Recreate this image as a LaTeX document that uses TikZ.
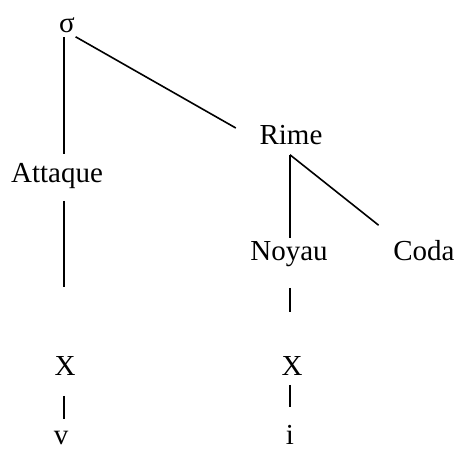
\documentclass[tikz,border=0pt]{standalone}
\usepackage{fontspec}
\setmainfont{Liberation Serif}
\usepackage{tikz}
\newcommand{\colA}{64}
\newcommand{\colB}{290}

\begin{document}
\begin{tikzpicture}[x=1pt, y=-1pt, line width=1.6pt,
	lab/.style={font=\fontsize{29}{34}\selectfont, inner sep=0pt, anchor=base, text height=20pt, text depth=0pt}]
	\useasboundingbox (0,0) rectangle (459,452);
	\coordinate (ca) at (\colA,0);
	\coordinate (cb) at (\colB,0);
	% syllabe
	\node[lab] (sigma) at (67,33) {σ};
	\node[lab] (attaque) at (57,183) {Attaque};
	\node[lab] (rime) at (291,145) {Rime};
	\node[lab] (noyau) at (289,261) {Noyau};
	\node[lab] (coda) at (424,261) {Coda};
	% squelette
	\node[lab] (xa) at (65,376) {X};
	\node[lab] (xb) at (292,376) {X};
	\node[lab] (v) at (61,445) {v};
	\node[lab] (i) at (290,445) {i};
	% branches
	\draw ([yshift=-3pt]sigma.south -| ca) -- ([yshift=8pt]attaque.north -| ca);
	\draw ([yshift=-3pt]sigma.south east) -- ([xshift=-23pt, yshift=7pt]rime.west);
	\draw ([yshift=-9pt]rime.south -| cb) -- ([yshift=2pt]noyau.north -| cb);
	\draw ([yshift=-9pt]rime.south -| cb) -- ([xshift=-14pt, yshift=15pt]coda.north west);
	\draw ([yshift=-17pt]attaque.south -| ca) -- ([yshift=68pt]xa.north -| ca);
	\draw ([yshift=-26pt]noyau.south -| cb) -- ([yshift=43pt]xb.north -| cb);
	\draw ([yshift=-19pt]xa.south -| ca) -- ([yshift=5pt]v.north -| ca);
	\draw ([yshift=-8pt]xb.south -| cb) -- ([yshift=17pt]i.north -| cb);
\end{tikzpicture}
\end{document}
